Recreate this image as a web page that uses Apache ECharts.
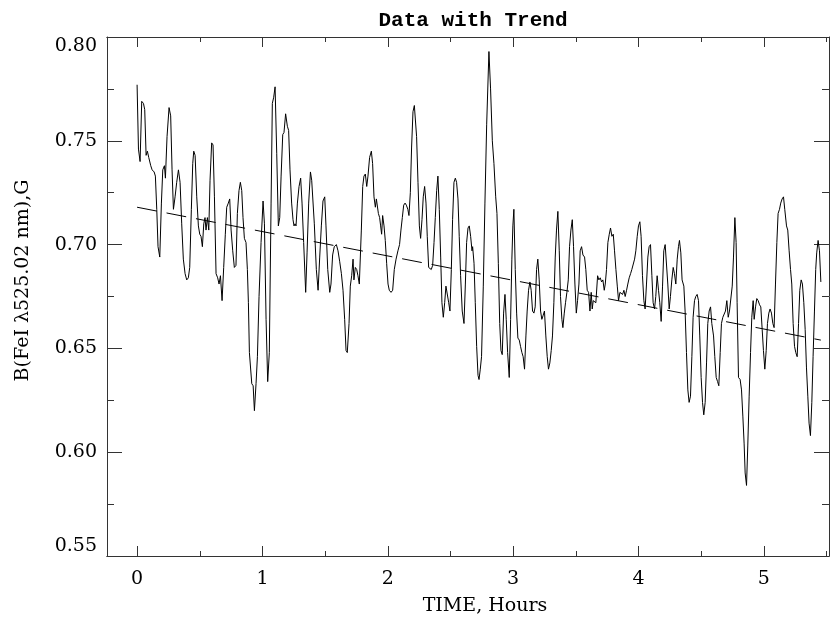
<!DOCTYPE html>
<html>
<head>
<meta charset="utf-8" />
<title>Data with Trend</title>
<script src="https://cdn.jsdelivr.net/npm/echarts@6/dist/echarts.min.js"></script>
<style>
  html, body { margin: 0; padding: 0; background: #fff; }
  #main { width: 833px; height: 623px; }
</style>
</head>
<body>
<div id="main"></div>
<script>
// time in hours, field in G
var hours = [
  0.000,0.011,0.024,0.037,0.051,0.061,0.072,0.082,0.093,0.109,0.120,0.136,0.146,0.157,0.167,0.181,0.194,0.205,0.218,0.226,
  0.239,0.255,0.268,0.279,0.290,0.303,0.316,0.330,0.343,0.356,0.369,0.383,0.396,0.409,0.420,0.433,0.444,0.452,0.463,0.476,
  0.489,0.500,0.510,0.521,0.532,0.542,0.550,0.561,0.572,0.582,0.595,0.606,0.617,0.630,0.643,0.654,0.665,0.678,0.691,0.704,
  0.715,0.728,0.739,0.750,0.763,0.776,0.789,0.800,0.813,0.824,0.835,0.845,0.856,0.869,0.880,
  0.888,0.896,0.915,0.926,0.936,0.949,0.960,0.973,0.989,1.005,1.016,1.029,1.042,1.055,1.069,1.079,1.090,1.101,1.114,1.127,
  1.138,1.149,1.162,1.172,1.185,1.199,1.209,1.220,1.233,1.244,1.252,1.260,1.268,1.279,1.292,1.305,1.316,1.329,1.345,1.356,
  1.369,1.383,1.393,1.404,1.414,1.430,1.444,1.457,1.470,1.483,1.497,1.507,1.521,1.537,1.547,1.560,1.573,1.590,1.603,1.616,
  1.630,1.643,1.656,1.667,1.677,1.691,1.701,1.712,1.723,1.730,1.741,1.752,1.762,1.773,
  1.789,1.800,1.810,1.821,1.832,1.842,1.855,1.869,1.879,1.890,1.901,1.909,1.917,1.925,1.935,1.943,1.951,1.959,1.970,1.980,
  1.991,2.002,2.012,2.026,2.039,2.052,2.066,2.081,2.094,2.105,2.116,2.127,2.138,2.148,2.160,2.169,2.180,2.190,2.201,2.212,
  2.220,2.230,2.241,2.252,2.262,2.273,2.283,2.294,2.305,2.315,2.326,2.337,2.347,2.358,2.369,2.379,2.390,2.400,2.411,2.422,
  2.432,2.443,2.454,2.464,2.475,2.486,2.496,2.507,2.517,2.528,2.539,2.549,2.560,2.570,2.581,2.594,2.608,2.619,2.629,2.640,
  2.650,2.661,2.672,2.677,2.688,2.698,2.709,2.720,
  2.728,2.738,2.748,2.762,2.775,2.789,2.807,2.820,2.834,2.847,2.861,2.871,2.882,2.893,2.903,2.913,2.924,2.935,2.945,2.956,
  2.969,2.980,2.990,2.998,3.006,3.017,3.028,3.038,3.049,3.059,3.070,3.080,3.091,3.102,3.112,3.123,3.134,3.144,3.155,3.166,
  3.176,3.187,3.197,3.208,3.219,3.229,3.240,3.250,3.261,3.272,3.282,3.293,3.304,3.314,3.325,3.336,3.346,3.357,3.368,3.378,
  3.389,3.397,3.408,3.418,3.429,3.440,3.450,3.461,3.472,3.482,3.493,3.504,3.514,3.525,3.535,3.546,3.557,3.570,3.580,3.591,
  3.602,3.613,3.623,3.631,3.639,
  3.652,3.660,3.674,3.684,3.695,3.706,3.716,3.727,3.735,3.745,3.756,3.767,3.777,3.788,3.799,3.809,3.820,3.831,3.841,3.852,
  3.862,3.873,3.884,3.894,3.905,3.915,3.926,3.937,3.947,3.958,3.969,3.979,3.990,4.000,4.011,4.021,4.032,4.043,4.053,4.064,
  4.075,4.085,4.096,4.107,4.117,4.128,4.138,4.149,4.160,4.170,4.181,4.192,4.202,4.213,4.224,4.234,4.245,4.255,4.266,4.277,
  4.287,4.298,4.309,4.319,4.327,4.338,4.348,4.362,4.372,4.383,4.394,4.404,4.415,4.426,4.436,4.447,4.457,4.468,4.479,4.489,
  4.500,4.511,4.521,4.532,4.543,4.553,4.564,
  4.575,4.585,4.599,4.609,4.620,4.631,4.641,4.652,4.662,4.673,4.684,4.694,4.705,4.716,4.726,4.737,4.748,4.758,4.769,4.779,
  4.787,4.798,4.811,4.822,4.833,4.843,4.851,4.862,4.872,4.883,4.894,4.904,4.915,4.923,4.934,4.944,4.955,4.966,4.976,4.987,
  4.997,5.008,5.019,5.029,5.040,5.050,5.061,5.072,5.082,5.093,5.104,5.114,5.125,5.135,5.146,5.157,5.167,5.181,5.191,5.202,
  5.213,5.223,5.234,5.245,5.255,5.266,5.277,5.287,5.298,5.308,5.319,5.330,5.340,5.351,5.361,5.372,5.383,5.393,5.404,5.414,
  5.422,5.433,5.444,5.455
];

var bField = [
  0.777,0.746,0.740,0.769,0.768,0.765,0.743,0.745,0.742,0.738,0.736,0.735,0.733,0.717,0.699,0.694,0.720,0.736,0.738,0.732,
  0.752,0.766,0.762,0.736,0.717,0.723,0.730,0.736,0.730,0.710,0.693,0.686,0.683,0.684,0.689,0.717,0.739,0.745,0.743,0.723,
  0.709,0.705,0.704,0.699,0.710,0.713,0.707,0.713,0.707,0.731,0.749,0.748,0.723,0.686,0.684,0.681,0.685,0.673,0.689,0.705,
  0.718,0.720,0.722,0.707,0.697,0.689,0.690,0.715,0.726,0.730,0.726,0.713,0.703,0.701,0.688,
  0.672,0.648,0.633,0.632,0.620,0.633,0.646,0.675,0.701,0.721,0.710,0.664,0.634,0.648,0.720,0.768,0.771,0.776,0.744,0.709,
  0.713,0.733,0.753,0.754,0.763,0.757,0.755,0.736,0.720,0.712,0.709,0.710,0.709,0.720,0.728,0.732,0.720,0.701,0.677,0.696,
  0.720,0.735,0.731,0.731,0.710,0.688,0.678,0.694,0.709,0.721,0.723,0.709,0.688,0.677,0.681,0.695,0.699,0.700,0.697,0.692,
  0.686,0.678,0.664,0.649,0.648,0.662,0.680,0.685,0.693,0.683,0.689,0.688,0.685,0.681,
  0.707,0.728,0.733,0.734,0.728,0.733,0.742,0.745,0.739,0.723,0.718,0.722,0.722,0.715,0.713,0.709,0.705,0.714,0.709,0.702,
  0.691,0.681,0.678,0.677,0.678,0.688,0.693,0.697,0.700,0.707,0.713,0.719,0.720,0.719,0.717,0.714,0.725,0.747,0.764,0.767,
  0.767,0.752,0.730,0.709,0.703,0.712,0.723,0.728,0.720,0.704,0.689,0.689,0.688,0.690,0.701,0.713,0.726,0.733,0.717,0.694,
  0.672,0.665,0.672,0.680,0.680,0.672,0.668,0.688,0.712,0.730,0.732,0.730,0.722,0.704,0.685,0.668,0.662,0.681,0.701,0.708,
  0.709,0.704,0.697,0.699,0.691,0.672,0.651,0.637,
  0.635,0.640,0.646,0.680,0.720,0.758,0.793,0.775,0.750,0.739,0.723,0.715,0.691,0.662,0.649,0.647,0.667,0.676,0.664,0.648,
  0.636,0.664,0.693,0.709,0.717,0.688,0.667,0.655,0.654,0.651,0.648,0.646,0.640,0.656,0.668,0.678,0.682,0.678,0.668,0.667,
  0.670,0.688,0.693,0.683,0.668,0.664,0.666,0.668,0.656,0.646,0.640,0.643,0.649,0.656,0.672,0.694,0.707,0.716,0.697,0.675,
  0.664,0.660,0.667,0.672,0.677,0.683,0.699,0.707,0.712,0.699,0.681,0.667,0.673,0.681,0.697,0.699,0.695,0.694,0.688,0.678,
  0.677,0.668,0.677,0.669,0.673,
  0.673,0.672,0.685,0.683,0.684,0.682,0.683,0.678,0.681,0.688,0.701,0.705,0.708,0.704,0.705,0.697,0.688,0.680,0.673,0.677,
  0.677,0.676,0.678,0.675,0.678,0.681,0.684,0.686,0.688,0.688,0.693,0.697,0.704,0.709,0.711,0.704,0.685,0.673,0.669,0.681,
  0.694,0.699,0.700,0.685,0.672,0.669,0.675,0.685,0.678,0.672,0.663,0.680,0.697,0.700,0.700,0.681,0.669,0.675,0.683,0.689,
  0.686,0.681,0.693,0.699,0.702,0.696,0.683,0.680,0.668,0.648,0.630,0.624,0.627,0.646,0.665,0.673,0.675,0.676,0.673,0.656,
  0.636,0.624,0.618,0.624,0.643,0.662,0.668,
  0.670,0.662,0.656,0.646,0.636,0.634,0.632,0.648,0.662,0.665,0.665,0.668,0.673,0.665,0.668,0.668,0.680,0.694,0.713,0.701,
  0.672,0.636,0.635,0.630,0.617,0.604,0.590,0.584,0.603,0.627,0.648,0.665,0.673,0.664,0.670,0.674,0.673,0.671,0.670,0.659,
  0.649,0.640,0.649,0.662,0.667,0.669,0.667,0.662,0.660,0.681,0.701,0.715,0.717,0.720,0.722,0.723,0.717,0.709,0.707,0.697,
  0.688,0.681,0.662,0.651,0.648,0.646,0.662,0.678,0.683,0.681,0.672,0.659,0.641,0.627,0.614,0.608,0.624,0.646,0.668,0.688,
  0.696,0.702,0.697,0.682
];

// linear trend, end points
var trendHours = [0.000, 5.455];
var trendField = [0.718, 0.654];

var majorHours = [0, 1, 2, 3, 4, 5];
var minorHours = [0.5, 1.5, 2.5, 3.5, 4.5, 5.5];

var labelFont = 'DejaVu Serif';
var axisColor = '#333';

var chart = echarts.init(document.getElementById('main'));

function xAxisDef(pos, ticks, len, withLabels) {
  return {
    type: 'value',
    position: pos,
    min: -0.24,
    max: 5.52,
    axisLine: { show: true, onZero: false, lineStyle: { color: axisColor, width: 1 } },
    axisTick: { show: true, inside: true, length: len, customValues: ticks, lineStyle: { color: axisColor } },
    axisLabel: withLabels ? {
      show: true, customValues: ticks, margin: 14,
      fontFamily: labelFont, fontSize: 19, color: '#000'
    } : { show: false },
    splitLine: { show: false },
    name: withLabels ? 'TIME, Hours' : '',
    nameLocation: 'middle',
    nameGap: 41,
    nameTextStyle: { fontFamily: labelFont, fontSize: 19, color: '#000', padding: [0, 0, 0, 34] }
  };
}

function yAxisDef(pos, withLabels) {
  return {
    type: 'value',
    position: pos,
    min: 0.55,
    max: 0.80,
    interval: 0.05,
    axisLine: { show: true, onZero: false, lineStyle: { color: axisColor, width: 1 } },
    axisTick: { show: true, inside: true, length: 15, lineStyle: { color: axisColor } },
    minorTick: { show: true, splitNumber: 2, length: 7, lineStyle: { color: axisColor } },
    axisLabel: withLabels ? {
      show: true, margin: 10,
      fontFamily: labelFont, fontSize: 19, color: '#000',
      verticalAlignMinLabel: 'bottom',
      verticalAlignMaxLabel: 'top',
      formatter: function (v) { return v.toFixed(2); }
    } : { show: false },
    splitLine: { show: false },
    minorSplitLine: { show: false },
    name: withLabels ? 'B(FeI \u03bb525.02 nm),G' : '',
    nameLocation: 'middle',
    nameGap: 74,
    nameRotate: 90,
    nameTextStyle: { fontFamily: labelFont, fontSize: 19, color: '#000', padding: [0, 0, 0, 32] }
  };
}

var option = {
  backgroundColor: '#fff',
  animation: false,
  title: {
    text: 'Data with Trend',
    left: 468,
    top: 5,
    textAlign: 'center',
    textStyle: { fontFamily: 'Liberation Mono', fontSize: 21, fontWeight: 'bold', color: '#000' }
  },
  grid: { left: 107, right: 4, top: 37, bottom: 67 },
  xAxis: [
    xAxisDef('bottom', majorHours, 10, true),
    xAxisDef('bottom', minorHours, 5, false),
    xAxisDef('top', majorHours, 10, false),
    xAxisDef('top', minorHours, 5, false)
  ],
  yAxis: [
    yAxisDef('left', true),
    yAxisDef('right', false)
  ],
  series: [
    {
      type: 'line',
      xAxisIndex: 0,
      yAxisIndex: 0,
      data: hours.map(function (h, i) { return [h, bField[i]]; }),
      showSymbol: false,
      lineStyle: { color: '#000', width: 1 }
    },
    {
      type: 'line',
      xAxisIndex: 0,
      yAxisIndex: 0,
      data: trendHours.map(function (h, i) { return [h, trendField[i]]; }),
      showSymbol: false,
      lineStyle: { color: '#000', width: 1, type: [20, 10] }
    }
  ]
};

chart.setOption(option);
</script>
</body>
</html>
